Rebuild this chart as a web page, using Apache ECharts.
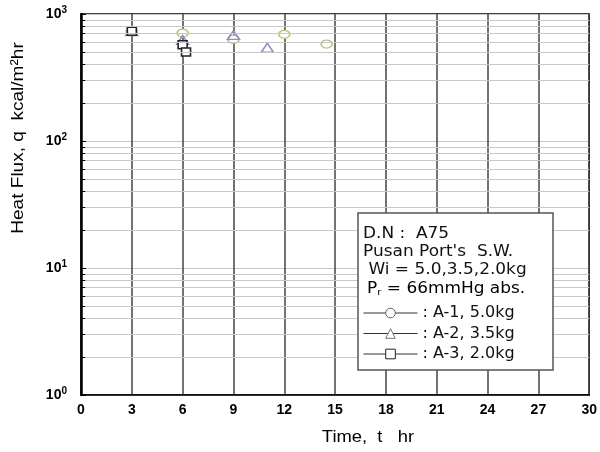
<!DOCTYPE html>
<html><head><meta charset="utf-8">
<script src="https://cdn.jsdelivr.net/npm/echarts@6/dist/echarts.min.js"></script>
<style>html,body{margin:0;background:#fff}#c{width:600px;height:452px}</style>
</head><body><div id="c"></div>
<script>
// Data
const timeA1 = [3, 6, 9, 12, 14.5];
const qA1 = [730, 708, 630, 692, 580];
const timeA2 = [3, 6, 9, 11];
const qA2 = [735, 625, 684, 543];
const timeA3 = [3, 6, 6.2];
const qA3 = [731, 573, 502];
const seriesNames = ['A-1, 5.0kg', 'A-2, 3.5kg', 'A-3, 2.0kg'];
const xTickLabels = ['0','3','6','9','12','15','18','21','24','27','30'];
const minorY = [2,3,4,5,6,7,8,9,20,30,40,50,60,70,80,90,200,300,400,500,600,700,800,900];
const boxLines = ['D.N :  A75', "Pusan Port's  S.W.", ' Wi = 5.0,3.5,2.0kg'];

const pairs = (xs, ys) => xs.map((x, i) => [x, ys[i]]);
const FONT = 'Liberation Sans';
const BOXFONT = 'DejaVu Sans';
const boxText = (txt, y) => ({type: 'text', z: 20, x: 363, y: y, scaleX: 1.13,
  style: {text: txt, font: '15px "' + BOXFONT + '"', fill: '#111', textVerticalAlign: 'middle'}});

const chart = echarts.init(document.getElementById('c'), null, {renderer: 'canvas'});
chart.setOption({
  animation: false,
  backgroundColor: '#fff',
  grid: {left: 81, right: 8, top: 14, bottom: 57, show: true, borderColor: '#000', borderWidth: 1.5, containLabel: false},
  xAxis: {
    type: 'value', min: 0, max: 30, interval: 3,
    axisLine: {show: true, lineStyle: {color: '#000', width: 1.5}},
    axisTick: {show: false},
    splitLine: {show: true, lineStyle: {color: '#444', width: 1.5}},
    axisLabel: {margin: 8, color: '#000', fontFamily: FONT, fontSize: 14, fontWeight: 'bold',
      formatter: v => xTickLabels[Math.round(v / 3)]}
  },
  yAxis: {
    type: 'log', logBase: 10, min: 1, max: 1000, splitNumber: 3,
    axisLine: {show: true, lineStyle: {color: '#000', width: 2.5}},
    axisTick: {show: true, inside: true, length: 5, lineStyle: {color: '#000'}},
    splitLine: {show: true, lineStyle: {color: '#c8c8c8', width: 1}},
    axisLabel: {margin: 14, color: '#000',
      formatter: v => '{b|10}{s|' + Math.round(Math.log10(v)) + '}',
      rich: {
        b: {fontFamily: FONT, fontSize: 14, fontWeight: 'bold', color: '#000'},
        s: {fontFamily: FONT, fontSize: 10, fontWeight: 'bold', color: '#000', padding: [0, 0, 7, 0]}
      }}
  },
  legend: {
    orient: 'vertical', left: 358, top: 300,
    itemWidth: 54, itemHeight: 12, itemGap: 4.5,
    formatter: n => ': ' + n,
    textStyle: {fontFamily: BOXFONT, fontSize: 16, color: '#111', lineHeight: 16},
    lineStyle: {color: '#333', width: 1, opacity: 1},
    data: [
      {name: seriesNames[0], itemStyle: {color: '#fff', borderColor: '#666', borderWidth: 1}},
      {name: seriesNames[1], itemStyle: {color: '#fff', borderColor: '#777', borderWidth: 1}},
      {name: seriesNames[2], itemStyle: {color: '#fff', borderColor: '#222', borderWidth: 1}}
    ],
    z: 20
  },
  graphic: [
    {type: 'rect', z: 15, shape: {x: 358, y: 213, width: 195, height: 157},
      style: {fill: '#fff', stroke: '#555', lineWidth: 1.5}},
    boxText(boxLines[0], 234),
    boxText(boxLines[1], 252),
    boxText(boxLines[2], 270),
    {type: 'text', z: 20, x: 367, y: 282, scaleX: 1.13, style: {text: '{a|P}{sub|r}{a| = 66mmHg abs.}',
      rich: {a: {fontFamily: BOXFONT, fontSize: 15, color: '#111'},
             sub: {fontFamily: BOXFONT, fontSize: 9, color: '#111', padding: [6, 0, 0, 0]}}}},
    {type: 'text', z: 5, x: 18, y: 138, rotation: Math.PI / 2, scaleX: 1.12,
      style: {text: 'Heat Flux, q  kcal/m²hr', font: '17px "' + FONT + '"', fill: '#000', textAlign: 'center', textVerticalAlign: 'middle'}},
    {type: 'text', z: 5, x: 368, y: 438, scaleX: 1.15,
      style: {text: 'Time,  t   hr', font: '16px "' + FONT + '"', fill: '#000', textAlign: 'center', textVerticalAlign: 'middle'}}
  ],
  series: [
    {
      type: 'line', name: '_grid', data: [], silent: true, z: 1,
      markLine: {
        silent: true, symbol: 'none', label: {show: false}, animation: false,
        lineStyle: {color: '#c8c8c8', width: 1, type: 'solid'},
        data: minorY.map(v => ({yAxis: v}))
          .concat(minorY.map(v => [{coord: [0, v], lineStyle: {color: '#000', width: 1, type: 'solid'}}, {coord: [0.25, v]}]))
      }
    },
    {
      type: 'line', name: seriesNames[0], data: pairs(timeA1, qA1), z: 3,
      symbol: 'circle', symbolSize: [11, 8],
      lineStyle: {opacity: 0, width: 0},
      itemStyle: {color: '#fff', borderColor: '#b3c97a', borderWidth: 1.5}
    },
    {
      type: 'line', name: seriesNames[1], data: pairs(timeA2, qA2), z: 3,
      symbol: 'triangle', symbolSize: [12, 9],
      lineStyle: {opacity: 0, width: 0},
      itemStyle: {color: 'rgba(255,255,255,0)', borderColor: '#9c88c8', borderWidth: 1.5}
    },
    {
      type: 'line', name: seriesNames[2], data: pairs(timeA3, qA3), z: 4,
      symbol: 'rect', symbolSize: [9, 8],
      lineStyle: {opacity: 0, width: 0},
      itemStyle: {color: '#fff', borderColor: '#222', borderWidth: 1.5}
    }
  ]
});
</script>
</body></html>
